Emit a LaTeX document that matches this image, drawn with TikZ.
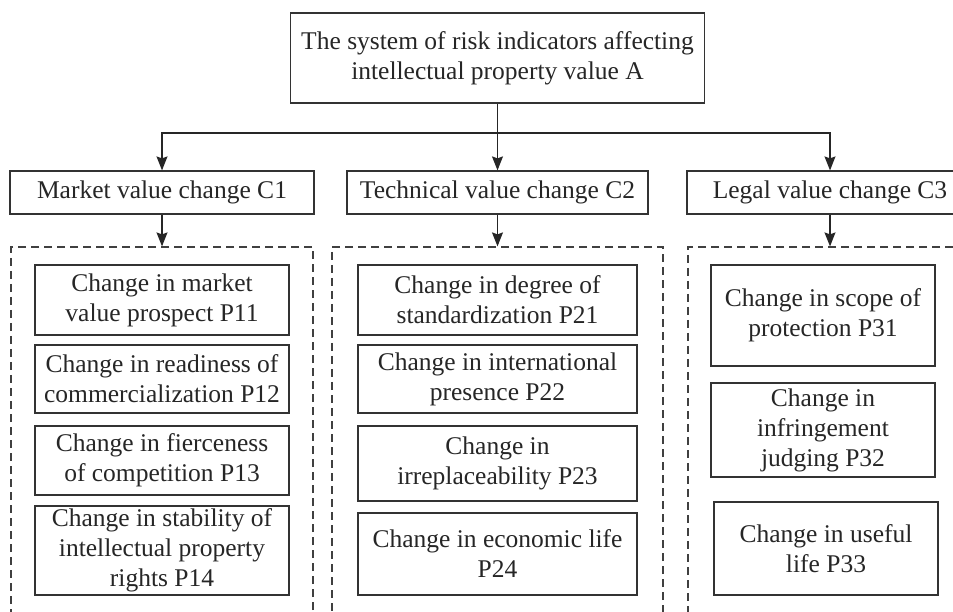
\documentclass[tikz,border=0pt]{standalone}
\usepackage{fontspec}
\setmainfont{Liberation Serif}
\usetikzlibrary{arrows.meta}
\tikzstyle{block} = [rectangle, draw=black!80, line width=1.2pt, align=center, inner sep=2pt, text=black!85, font=\fontsize{25.5}{30}\selectfont]
\tikzstyle{group} = [rectangle, draw=black!75, line width=1.2pt, dash pattern=on 8pt off 5pt]
\tikzset{edge/.style = {
    draw=black!85, line width=1.2pt,
    -{Stealth[length=14pt,width=11pt,inset=2pt]},
  }
}

\begin{document}
\begin{tikzpicture}[x=1pt, y=-1pt]
  \useasboundingbox (0,0) rectangle (953,612);
  \clip (0,0) rectangle (953,612);

  % root and criteria
  \node[block, minimum width=414pt, minimum height=90pt] (A) at (497.5,58)
    {The system of risk indicators affecting\\intellectual property value A};
  \node[block, minimum width=304pt, minimum height=43pt] (C1) at (162,192.5) {Market value change C1};
  \node[block, minimum width=301pt, minimum height=43pt] (C2) at (497.5,192.5) {Technical value change C2};
  \node[block, minimum width=286pt, minimum height=43pt] (C3) at (830,192.5) {Legal value change C3};

  % dashed groups (run off the bottom)
  \node[group, minimum width=302pt, minimum height=373pt] (G1) at (162,433.5) {};
  \node[group, minimum width=331pt, minimum height=373pt] (G2) at (497.5,433.5) {};
  \node[group, minimum width=284pt, minimum height=373pt] (G3) at (830,433.5) {};

  % indicators
  \node[block, minimum width=254pt, minimum height=70pt] (P11) at (162,300) {Change in market\\value prospect P11};
  \node[block, minimum width=254pt, minimum height=68pt] (P12) at (162,379) {Change in readiness of\\commercialization P12};
  \node[block, minimum width=254pt, minimum height=69pt] (P13) at (162,460.5) {Change in fierceness\\of competition P13};
  \node[block, minimum width=254pt, minimum height=89pt] (P14) at (162,550.5) {Change in stability of\\intellectual property\\rights P14};

  \node[block, minimum width=279pt, minimum height=70pt] (P21) at (497.5,300) {Change in degree of\\standardization P21};
  \node[block, minimum width=279pt, minimum height=68pt] (P22) at (497.5,379) {Change in international\\presence P22};
  \node[block, minimum width=279pt, minimum height=75pt] (P23) at (497.5,463.5) {Change in\\irreplaceability P23};
  \node[block, minimum width=279pt, minimum height=82pt] (P24) at (497.5,554) {Change in economic life\\P24};

  \node[block, minimum width=224pt, minimum height=101pt] (P31) at (823,315.5) {Change in scope of\\protection P31};
  \node[block, minimum width=224pt, minimum height=94pt] (P32) at (823,430) {Change in\\infringement\\judging P32};
  \node[block, minimum width=224pt, minimum height=93pt] (P33) at (826,548.5) {Change in useful\\life P33};

  % edges
  \coordinate (split) at (A.south |- 0,133);
  \draw[draw=black!85, line width=1.2pt] (A.south) -- (split);
  \draw[edge] (split) -| (C1.north);
  \draw[edge] (split) -- (C2.north);
  \draw[edge] (split) -| (C3.north);
  \draw[edge] (C1) -- (G1.north);
  \draw[edge] (C2) -- (G2.north);
  \draw[edge] (C3) -- (G3.north);
\end{tikzpicture}
\end{document}
